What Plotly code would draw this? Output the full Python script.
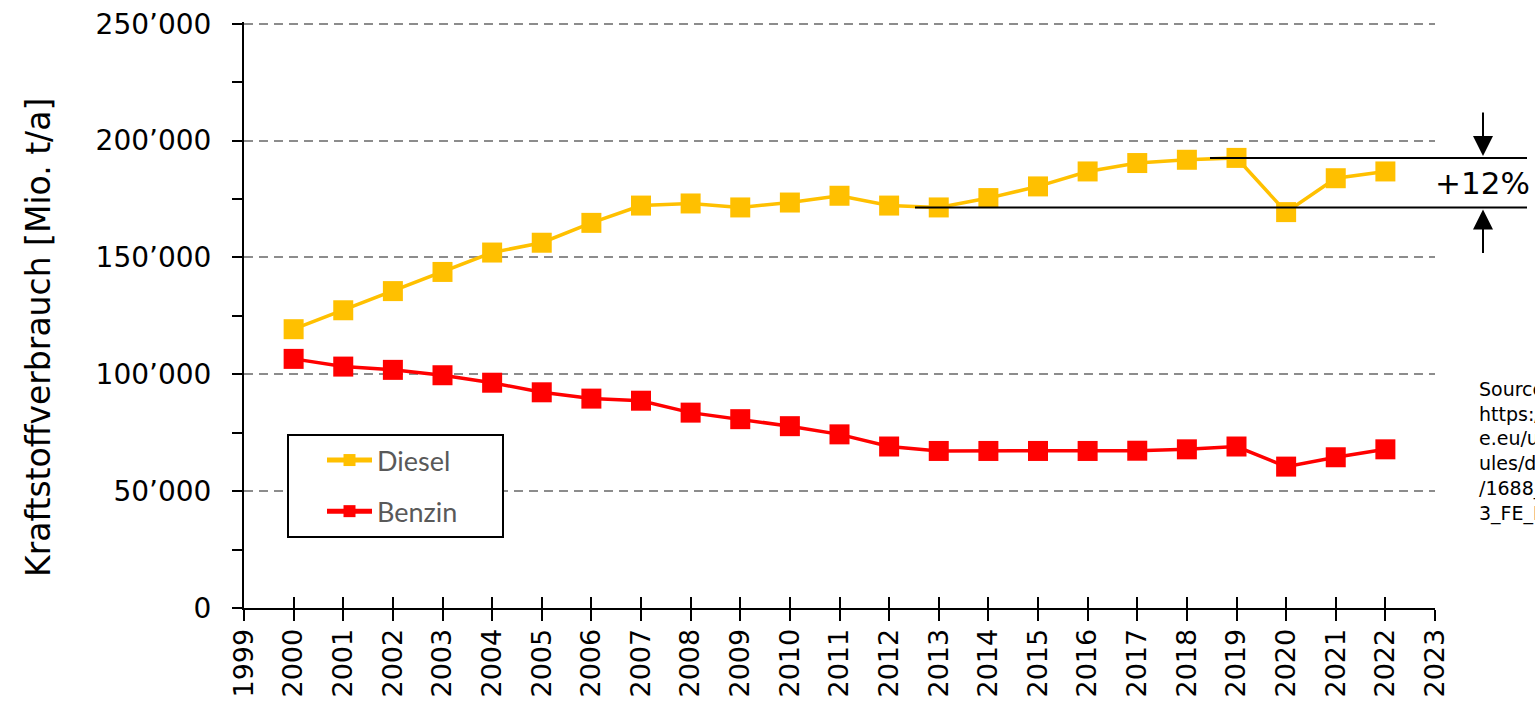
import plotly.graph_objects as go

years = list(range(2000, 2023))
diesel = [119300, 127400, 135600, 143800, 152100, 156300, 164800, 172200, 173100, 171400,
          173500, 176400, 172200, 171400, 175400, 180400, 186800, 190400, 191800, 192600,
          169400, 183900, 186800]
benzin = [106600, 103300, 101900, 99600, 96400, 92300, 89600, 88700, 83600, 80800,
          77800, 74300, 69100, 67200, 67200, 67200, 67200, 67300, 67900, 69100,
          60500, 64500, 67900]

x_ticks = list(range(1999, 2024))
y_ticks = [0, 50000, 100000, 150000, 200000, 250000]
y_ticktext = ["0", "50’000", "100’000", "150’000", "200’000", "250’000"]

ref_low_year = 2013
ref_high_year = 2019
ref_low = diesel[years.index(ref_low_year)]
ref_high = diesel[years.index(ref_high_year)]
pct_text = "+12%"

source_text = ("Source:<br>https://www.fuelseurop<br>e.eu/uploads/files/mod<br>"
               "ules/documents/file<br>/1688_2023_Statistical<br>3_FE_Report.pdf")

FONT = "DejaVu Sans"
DIESEL_C = "#FFC000"
BENZIN_C = "#FF0000"

fig = go.Figure()
fig.add_trace(go.Scatter(
    x=years, y=diesel, name="Diesel", mode="lines+markers",
    line=dict(color=DIESEL_C, width=3.5),
    marker=dict(symbol="square", size=20, color=DIESEL_C),
    legendgroup="d"))
fig.add_trace(go.Scatter(
    x=years, y=benzin, name="Benzin", mode="lines+markers",
    line=dict(color=BENZIN_C, width=3.5),
    marker=dict(symbol="square", size=20, color=BENZIN_C),
    legendgroup="b"))
# helper empty trace for crossing x ticks
fig.add_trace(go.Scatter(x=[], y=[], xaxis="x2", showlegend=False, hoverinfo="skip"))

Y_MAX = 250000 * 1.003
L, R, T, B = 244, 100, 22, 96
W, H = 1535, 704
pw = W - L - R
ph = H - T - B

def px_x(px):
    return (px - L) / pw

def px_y(py):
    return (H - B - py) / ph

fig.update_layout(
    width=W, height=H,
    margin=dict(l=L, r=R, t=T, b=B, autoexpand=False),
    paper_bgcolor="white", plot_bgcolor="white",
    font=dict(family=FONT, color="#000000"),
    showlegend=True,
    legend=dict(
        x=px_x(322), y=px_y(436), xanchor="left", yanchor="top",
        bgcolor="rgba(0,0,0,0)", borderwidth=0,
        font=dict(family="Lato", size=27, color="#595959"),
        itemsizing="constant", itemwidth=45, tracegroupgap=13, traceorder="grouped",
    ),
    xaxis=dict(
        range=[1999, 2023], tickmode="array", tickvals=x_ticks,
        ticktext=[str(v) for v in x_ticks], tickangle=-90,
        tickfont=dict(family=FONT, size=27, color="#000000"),
        ticks="outside", ticklen=11, tickwidth=2, tickcolor="#000000",
        showline=True, linecolor="#000000", linewidth=2,
        showgrid=False, zeroline=False, ticklabelstandoff=-3, automargin=False,
    ),
    xaxis2=dict(
        range=[1999, 2023], overlaying="x", anchor="y", side="bottom",
        tickmode="array", tickvals=x_ticks, showticklabels=False,
        ticks="inside", ticklen=11, tickwidth=2, tickcolor="#000000",
        showline=False, showgrid=False, zeroline=False, automargin=False,
    ),
    yaxis=dict(
        range=[0, Y_MAX], tickmode="array", tickvals=y_ticks, ticktext=y_ticktext,
        tickfont=dict(family=FONT, size=28, color="#000000"),
        ticks="outside", ticklen=10, tickwidth=2, tickcolor="#000000",
        minor=dict(dtick=25000, tick0=0, ticks="outside", ticklen=10, tickwidth=2,
                   tickcolor="#000000", showgrid=False),
        showline=True, linecolor="#000000", linewidth=2,
        showgrid=True, gridcolor="#8C8C8C", gridwidth=2, griddash="9px,6px",
        zeroline=False, ticklabelstandoff=15, automargin=False,
    ),
)

# legend frame
fig.add_shape(type="rect", xref="paper", yref="paper",
              x0=px_x(288), x1=px_x(503), y0=px_y(537), y1=px_y(435),
              line=dict(color="#000000", width=2), fillcolor="white", layer="above")

# reference lines for the +12% annotation
fig.add_shape(type="line", xref="paper", yref="y",
              x0=px_x(1210), x1=px_x(1527), y0=ref_high, y1=ref_high,
              line=dict(color="#000000", width=2))
fig.add_shape(type="line", xref="paper", yref="y",
              x0=px_x(915), x1=px_x(1527), y0=ref_low, y1=ref_low,
              line=dict(color="#000000", width=2))

fig.add_annotation(xref="paper", yref="y", x=px_x(1483), y=ref_high,
                   ax=0, ay=-47, text="",
                   showarrow=True, arrowhead=2, arrowsize=2.0, arrowwidth=2,
                   arrowcolor="#000000", standoff=2)
fig.add_annotation(xref="paper", yref="y", x=px_x(1483), y=ref_low,
                   ax=0, ay=47, text="",
                   showarrow=True, arrowhead=2, arrowsize=2.0, arrowwidth=2,
                   arrowcolor="#000000", standoff=2)
fig.add_annotation(xref="paper", yref="y", x=px_x(1482), y=(ref_high + ref_low) / 2,
                   text=pct_text, showarrow=False, xanchor="center", yanchor="middle",
                   font=dict(family=FONT, size=31, color="#000000"))

# y axis title
fig.add_annotation(xref="paper", yref="paper", x=px_x(38), y=px_y(338),
                   text="Kraftstoffverbrauch [Mio. t/a]", textangle=-90,
                   showarrow=False, xanchor="center", yanchor="middle",
                   font=dict(family=FONT, size=33, color="#000000"))

# source note (clipped by the page edge, as in the original)
fig.add_annotation(xref="paper", yref="paper", x=px_x(1477), y=px_y(376),
                   text=source_text, showarrow=False, xanchor="left", yanchor="top",
                   align="left", font=dict(family=FONT, size=19, color="#000000"))

fig.write_html("out.html")
